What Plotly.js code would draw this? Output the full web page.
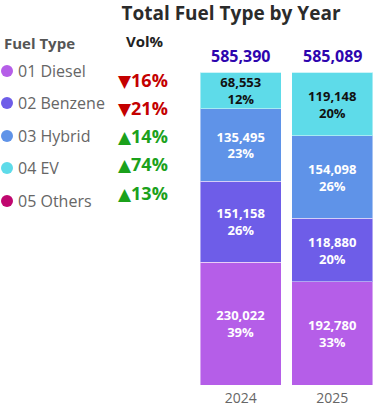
<!DOCTYPE html>
<html><head><meta charset="utf-8">
<script src="https://cdn.plot.ly/plotly-3.0.1.min.js"></script>
<style>html,body{margin:0;padding:0;background:#fff}#chart{width:392px;height:406px}</style>
</head><body><div id="chart"></div>
<script>
const years = ['2024', '2025'];
const fuelTypes = ['01 Diesel', '02 Benzene', '03 Hybrid', '04 EV', '05 Others'];
const diesel = [230022, 192780];
const benzene = [151158, 118880];
const hybrid = [135495, 154098];
const ev = [68553, 119148];
const others = [162, 183];
const colors = ['#B55EE8', '#6E5DE8', '#5F93E8', '#5EDBE9', '#C0076F'];
const textColors = ['#ffffff', '#ffffff', '#ffffff', '#111111', '#ffffff'];

const series = [diesel, benzene, hybrid, ev, others];
const totals = years.map((_, i) => series.reduce((s, a) => s + a[i], 0));
const fmt = v => v.toLocaleString('en-US');

const L = 195, R = 14, T = 72, B = 21, W = 392, H = 406;
const pw = W - L - R, ph = H - T - B;
const px = p => (p - L) / pw;
const py = p => (H - B - p) / ph;

const FONT = '"Open Sans", sans-serif';

const traces = series.map((vals, k) => ({
  type: 'bar',
  name: fuelTypes[k],
  x: years,
  y: vals,
  marker: {color: colors[k], line: {color: 'rgba(255,255,255,0.45)', width: 1}},
  text: k === 4 ? vals.map(() => '') : vals.map((v, i) => fmt(v) + '<br>' + Math.round(v / totals[i] * 100) + '%'),
  textposition: 'inside',
  insidetextanchor: 'middle',
  constraintext: 'none',
  textangle: 0,
  textfont: {family: FONT, size: 13, color: textColors[k], weight: 700},
  hoverinfo: 'skip',
  showlegend: false
}));

const ann = [];
const shapes = [];
// totals above bars
years.forEach((yr, i) => {
  ann.push({xref: 'x', yref: 'y', x: i, y: totals[i], yshift: 16, showarrow: false,
    text: '<b>' + fmt(totals[i]) + '</b>', font: {family: FONT, size: 16, color: '#2E05AE'}});
});
// legend header
ann.push({xref: 'paper', yref: 'paper', x: px(2), y: py(43), xanchor: 'left', yanchor: 'middle', showarrow: false,
  text: '<b>Fuel Type</b>', font: {family: FONT, size: 15, color: '#555555'}});
ann.push({xref: 'paper', yref: 'paper', x: px(145), y: py(41), xanchor: 'center', yanchor: 'middle', showarrow: false,
  text: '<b>Vol%</b>', font: {family: FONT, size: 15, color: '#222222'}});
const legY = [71, 103, 136, 168, 201];
const volY = [80, 108, 136, 164, 193];
fuelTypes.forEach((name, k) => {
  shapes.push({type: 'circle', xref: 'paper', yref: 'paper', x0: px(1), x1: px(13), y0: py(legY[k] + 6), y1: py(legY[k] - 6),
    fillcolor: colors[k], line: {width: 0}});
  ann.push({xref: 'paper', yref: 'paper', x: px(16), y: py(legY[k]), xanchor: 'left', yanchor: 'middle', showarrow: false,
    text: name, font: {family: FONT, size: 16, color: '#666666'}});
  const ch = series[k][1] / series[k][0] - 1;
  const up = ch >= 0;
  ann.push({xref: 'paper', yref: 'paper', x: px(116), y: py(volY[k]), xanchor: 'left', yanchor: 'middle', showarrow: false,
    text: '<b><span style="font-family:\'DejaVu Sans\';font-size:17px">' + (up ? '▲' : '▼') + '</span>' + Math.round(Math.abs(ch) * 100) + '%</b>',
    font: {family: FONT, size: 18, color: up ? '#1BA11B' : '#C40000'}});
});

const layout = {
  width: W, height: H,
  margin: {l: L, r: R, t: T, b: B, pad: 0},
  barmode: 'stack',
  bargap: 0.115,
  paper_bgcolor: '#ffffff', plot_bgcolor: '#ffffff',
  title: {text: '<b>Total Fuel Type by Year</b>', x: 231 / W, xanchor: 'center', y: 1 - 13 / H, yanchor: 'middle',
    font: {family: FONT, size: 19, color: '#2b2b2b'}},
  xaxis: {type: 'category', range: [-0.5, 1.5], autorange: false, showgrid: false, zeroline: false, showline: false, ticks: '',
    ticklabelstandoff: 3,
    tickfont: {family: FONT, size: 14, color: '#666666'}, fixedrange: true},
  yaxis: {range: [0, Math.max(...totals)], autorange: false, visible: false, showgrid: false, zeroline: false, fixedrange: true},
  annotations: ann,
  shapes: shapes
};

Plotly.newPlot('chart', traces, layout, {displayModeBar: false, staticPlot: true});
</script></body></html>
